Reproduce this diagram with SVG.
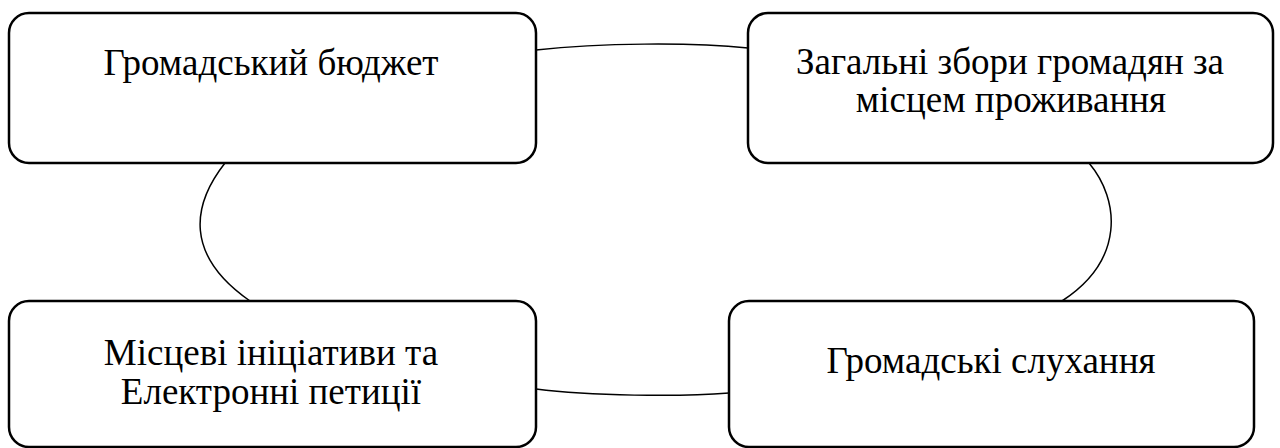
<svg xmlns="http://www.w3.org/2000/svg" width="1280" height="448" viewBox="0 0 1280 448">
<style>
.box{fill:#fff;stroke:#000;stroke-width:2.5}
.con{fill:none;stroke:#000;stroke-width:1.5}
</style>
<rect width="1280" height="448" fill="#fff"/>
<g id="connectors">
<path class="con" d="M536,50 C600,43 690,42 748,48"/>
<path class="con" d="M536,389 C590,396 680,397 729,393"/>
<path class="con" d="M225,163 C192,205 184,255 250,301"/>
<path class="con" d="M1089,163 C1120,200 1125,260 1062,301"/>
</g>
<g id="node-budget">
<rect class="box" x="9" y="13" width="527" height="150" rx="20"/>
<text x="271" y="75" font-family="Liberation Serif" font-size="37" text-anchor="middle">Громадський бюджет</text>
</g>
<g id="node-meetings">
<rect class="box" x="748" y="13" width="525" height="150" rx="20"/>
<text x="1010" y="74" font-family="Liberation Serif" font-size="37" text-anchor="middle">Загальні збори громадян за</text>
<text x="1011" y="112" font-family="Liberation Serif" font-size="37" text-anchor="middle">місцем проживання</text>
</g>
<g id="node-initiatives">
<rect class="box" x="9" y="301" width="527" height="146" rx="20"/>
<text x="271" y="365" font-family="Liberation Serif" font-size="37" text-anchor="middle">Місцеві ініціативи та</text>
<text x="271" y="404" font-family="Liberation Serif" font-size="37" text-anchor="middle">Електронні петиції</text>
</g>
<g id="node-hearings">
<rect class="box" x="729" y="301" width="525" height="146" rx="20"/>
<text x="991" y="373" font-family="Liberation Serif" font-size="37" text-anchor="middle">Громадські слухання</text>
</g>
</svg>
